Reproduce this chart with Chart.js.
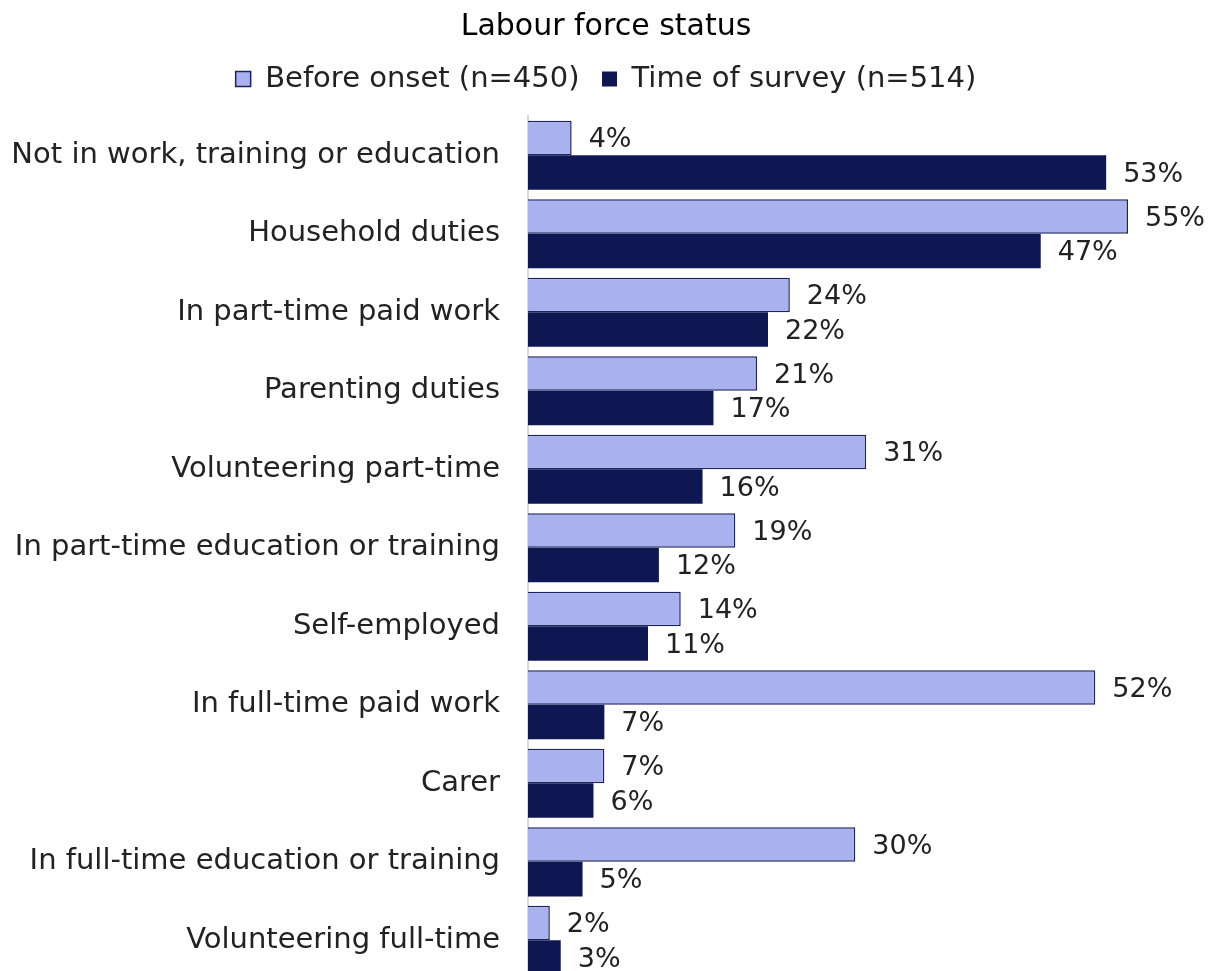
<!DOCTYPE html>
<html>
<head>
<meta charset="utf-8">
<script src="https://cdn.jsdelivr.net/npm/chart.js@4/dist/chart.umd.min.js"></script>
<style>
  html, body { margin: 0; padding: 0; background: #fff; overflow: hidden; }
  #wrap { width: 1212px; height: 971px; overflow: hidden; }
  canvas { display: block; }
</style>
</head>
<body>
<div id="wrap"><canvas id="chart" width="1212" height="1025"></canvas></div>
<script>
const categories = [
  'Not in work, training or education',
  'Household duties',
  'In part-time paid work',
  'Parenting duties',
  'Volunteering part-time',
  'In part-time education or training',
  'Self-employed',
  'In full-time paid work',
  'Carer',
  'In full-time education or training',
  'Volunteering full-time'
];
const beforeOnset = [4, 55, 24, 21, 31, 19, 14, 52, 7, 30, 2];
const timeOfSurvey = [53, 47, 22, 17, 16, 12, 11, 7, 6, 5, 3];
const seriesNames = ['Before onset (n=450)', 'Time of survey (n=514)'];

const FONT = '"DejaVu Sans", sans-serif';

// Writes each bar's percentage just past its end
const valueLabels = {
  id: 'valueLabels',
  afterDatasetsDraw(chart) {
    const ctx = chart.ctx;
    ctx.save();
    ctx.font = '27px ' + FONT;
    ctx.fillStyle = '#222';
    ctx.textAlign = 'left';
    ctx.textBaseline = 'middle';
    chart.data.datasets.forEach((ds, i) => {
      const meta = chart.getDatasetMeta(i);
      meta.data.forEach((bar, j) => {
        ctx.fillText(ds.data[j] + '%', bar.x + 17, bar.y + 2);
      });
    });
    ctx.restore();
  }
};

new Chart(document.getElementById('chart'), {
  type: 'bar',
  data: {
    labels: categories,
    datasets: [
      {
        label: seriesNames[0],
        data: beforeOnset,
        backgroundColor: '#A9B1EE',
        borderColor: '#1B2260',
        borderWidth: 1.5,
        categoryPercentage: 0.88,
        barPercentage: 1.0
      },
      {
        label: seriesNames[1],
        data: timeOfSurvey,
        backgroundColor: '#0F1752',
        borderColor: '#0F1752',
        borderWidth: 0,
        categoryPercentage: 0.88,
        barPercentage: 1.0
      }
    ]
  },
  options: {
    indexAxis: 'y',
    responsive: false,
    animation: false,
    layout: { padding: { left: 0, right: 0, top: 0, bottom: 0 } },
    scales: {
      x: {
        // invisible value axis; its fixed height leaves a gap under the legend
        position: 'top',
        min: 0,
        max: 62.7,
        grid: { display: false, drawTicks: false },
        border: { display: false },
        ticks: { display: false },
        afterFit(scale) { scale.height = 12.5; }
      },
      y: {
        grid: { display: false, drawTicks: false },
        border: { display: true, color: '#D9D9D9', width: 2 },
        ticks: {
          color: '#222',
          font: { family: FONT, size: 29 },
          padding: 28,
          autoSkip: false
        },
        afterFit(scale) { scale.width = 528; }
      }
    },
    plugins: {
      title: {
        display: true,
        text: 'Labour force status',
        color: '#000',
        font: { family: FONT, size: 30, weight: 'normal', lineHeight: 1.0 },
        padding: { top: 12, bottom: 0 }
      },
      legend: {
        display: true,
        position: 'top',
        labels: {
          color: '#222',
          font: { family: FONT, size: 29 },
          boxWidth: 15,
          boxHeight: 15,
          padding: 22.5
        }
      },
      tooltip: { enabled: false }
    }
  },
  plugins: [valueLabels]
});
</script>
</body>
</html>
